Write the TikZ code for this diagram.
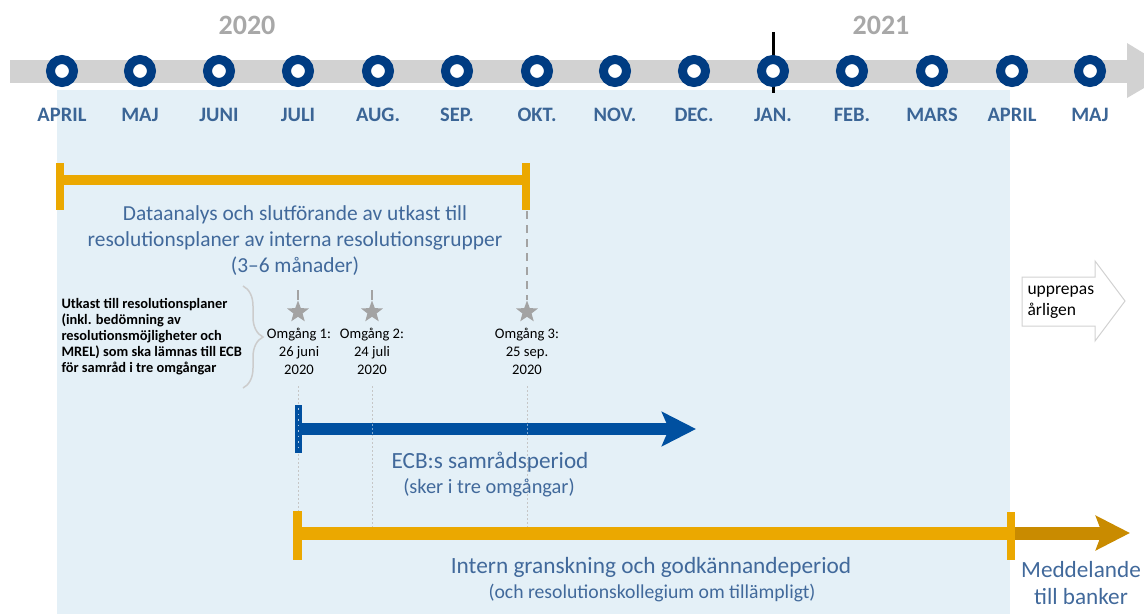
\documentclass[tikz,border=0pt]{standalone}
\usepackage{fontspec}
\setmainfont{Carlito}
\usetikzlibrary{arrows.meta,shapes.geometric,decorations.pathreplacing}
\definecolor{navy}{HTML}{003C82}
\definecolor{mtext}{HTML}{3B6596}
\definecolor{tblue}{HTML}{41699B}
\definecolor{gold}{HTML}{EBA800}
\definecolor{dgold}{HTML}{C98B00}
\definecolor{lblue}{HTML}{E4F0F7}
\definecolor{band}{HTML}{D2D2D2}
\definecolor{yeargray}{HTML}{A8A8A8}
\definecolor{ecbblue}{HTML}{0050A0}
\definecolor{stargray}{HTML}{A3A3A3}
\newcommand{\fsz}[2]{\fontsize{#1}{#2}\selectfont}
\tikzset{
  ring/.style={circle,draw=navy,line width=9pt,fill=white,minimum size=23pt,inner sep=0pt},
  month/.style={text=mtext,font=\fsz{20.5}{24}\bfseries},
  year/.style={text=yeargray,font=\fsz{28}{32}\bfseries},
  goldbar/.style={draw=gold,line width=10pt},
  goldcap/.style={fill=gold},
  starmark/.style={star,star points=5,star point ratio=2.4,fill=stargray,minimum size=23pt,inner sep=0pt},
  stem/.style={draw=stargray,line width=2pt},
  dotline/.style={draw=gray!45,line width=1pt,dash pattern=on 2pt off 2pt},
  omg/.style={align=center,font=\fsz{14.6}{18}},
  bluetext/.style={text=tblue,align=center}
}
\begin{document}
\begin{tikzpicture}[x=1pt,y=-1pt]
\useasboundingbox (0,0) rectangle (1144,614);
\clip (0,0) rectangle (1144,614);
% background panel
\fill[lblue] (57,90) rectangle (1010,614);
% timeline band
\fill[band] (10,60) rectangle (1127,83);
\fill[band] (1127,43) -- (1173,71) -- (1127,98) -- cycle;
% years
\node[year] (y20) at (247,25) {2020};
\node[year] (y21) at (881,25) {2021};
% Jan tick
\coordinate (tkT) at (773,32);
\coordinate (tkB) at (773,93);
\draw[black,line width=3pt] (tkT) -- (tkB);
% months
\foreach \i/\x/\t in {1/62/APRIL,2/140/MAJ,3/219/JUNI,4/298/JULI,5/378/AUG.,6/457/SEP.,7/537/OKT.,8/615/NOV.,9/694/DEC.,10/773/JAN.,11/852/FEB.,12/932/MARS,13/1012/APRIL,14/1090/MAJ}{
  \node[ring] (c\i) at (\x,71) {};
  \node[month] (m\i) at (\x,115) {\t};
}
% top gold bar
\coordinate (gA) at (60,180);
\coordinate (gB) at (526,180);
\draw[goldbar] (gA) -- (gB);
\fill[goldcap] (56,163) rectangle (64,210);
\fill[goldcap] (522,163) rectangle (530,210);
\node[bluetext,font=\fsz{21.4}{26}] (dtext) at (295,241) {Dataanalys och slutförande av utkast till\\resolutionsplaner av interna resolutionsgrupper\\(3–6 månader)};
% stars
\node[starmark] (s1) at (298,312) {};
\node[starmark] (s2) at (372,312) {};
\node[starmark] (s3) at (527,312) {};
\coordinate (s1t) at (298,290);
\coordinate (s2t) at (372,290);
\coordinate (s3t) at (527,211);
\draw[stem] (s1t) -- (s1.north);
\draw[stem] (s2t) -- (s2.north);
\draw[stem,dash pattern=on 8pt off 6pt] (s3t) -- (s3.north);
\node[omg] (o1) at (299,351) {Omgång 1:\\26 juni\\2020};
\node[omg] (o2) at (372,351) {Omgång 2:\\24 juli\\2020};
\node[omg] (o3) at (527,351) {Omgång 3:\\25 sep.\\2020};
% left text and brace
\node[anchor=west,align=left,font=\fsz{14.4}{16}\bfseries] (ltext) at (58,336.5) {Utkast till resolutionsplaner\\(inkl. bedömning av\\resolutionsmöjligheter och\\MREL) som ska lämnas till ECB\\för samråd i tre omgångar};
\coordinate (brT) at (243,286);
\coordinate (brB) at (243,388);
\draw[gray!40,line width=1.5pt,decorate,decoration={brace,amplitude=20pt}] (brT) -- (brB);
% dotted guide lines
\coordinate (d1a) at (298,386);
\coordinate (d1b) at (298,514);
\coordinate (d2a) at (372,386);
\coordinate (d2b) at (372,532);
\coordinate (d3a) at (527,386);
\coordinate (d3b) at (527,532);
\draw[dotline] (d1a) -- (d1b);
\draw[dotline] (d2a) -- (d2b);
\draw[dotline] (d3a) -- (d3b);
% ECB arrow
\coordinate (eA) at (298,429);
\coordinate (eB) at (696,429);
\draw[ecbblue,line width=12pt,-{Stealth[length=34pt,width=34pt,inset=7pt]}] (eA) -- (eB);
\fill[ecbblue] (295,405) rectangle (302,453);
\draw[white!70!ecbblue,line width=1pt,dash pattern=on 1.5pt off 4pt] (298.5,408) -- (298.5,451);
\draw[white!50!ecbblue,line width=1pt,dash pattern=on 2pt off 2pt] (372,424) -- (372,434);
\draw[white!50!ecbblue,line width=1pt,dash pattern=on 2pt off 2pt] (527,424) -- (527,434);
\node[bluetext,font=\fsz{23.2}{26}] (ecbt) at (490,462) {ECB:s samrådsperiod};
\node[bluetext,font=\fsz{20.4}{22}] (ecbs) at (489,488) {(sker i tre omgångar)};
% bottom gold bar
\coordinate (bA) at (297,533);
\coordinate (bB) at (1011,533);
\coordinate (bC) at (1130,533);
\draw[draw=gold,line width=13pt] (bA) -- (bB);
\draw[dgold,line width=13pt,-{Stealth[length=34pt,width=34pt,inset=6pt]}] (bB) -- (bC);
\fill[goldcap] (293,511) rectangle (302,560);
\fill[goldcap] (1007,512) rectangle (1015,560);
\node[bluetext,font=\fsz{23.3}{26}] (intt) at (651,567) {Intern granskning och godkännandeperiod};
\node[bluetext,font=\fsz{19.7}{22}] (ints) at (652,593) {(och resolutionskollegium om tillämpligt)};
\node[bluetext,font=\fsz{23.2}{27}] (medd) at (1081,583) {Meddelande\\till banker};
% repeat arrow
\draw[draw=gray!35,fill=white,line width=1pt] (1022,277) -- (1095,277) -- (1095,261) -- (1125,301) -- (1095,341) -- (1095,326) -- (1022,326) -- cycle;
\node[anchor=west,align=left,font=\fsz{17.5}{21}] (upp) at (1024,302) {upprepas\\årligen};
\end{tikzpicture}
\end{document}
